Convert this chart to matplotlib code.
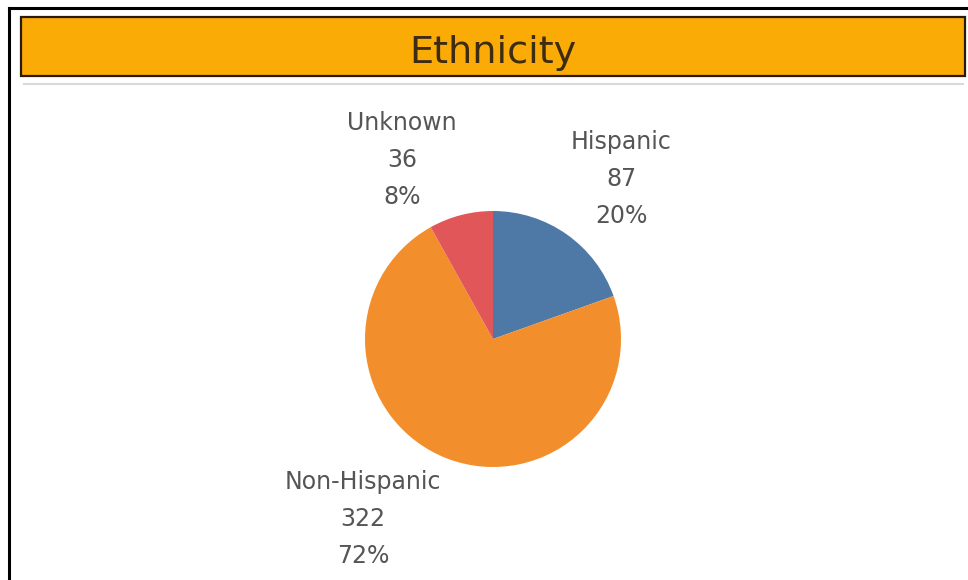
import matplotlib.pyplot as plt
from matplotlib.patches import Rectangle

# ethnicity counts
groups = ['Hispanic', 'Non-Hispanic', 'Unknown']
counts = [87, 322, 36]
colors = ['#4e79a7', '#f28e2b', '#e15759']

W, H = 968, 580
fig = plt.figure(figsize=(W / 100, H / 100), dpi=100)
ax = fig.add_axes([0, 0, 1, 1])

# pie, clockwise from 12 o'clock
ax.pie(counts, colors=colors, startangle=90, counterclock=False,
       center=(493, H - 339), radius=128, wedgeprops={'linewidth': 0})

ax.set_xlim(0, W)
ax.set_ylim(0, H)
ax.set_aspect('equal')
ax.axis('off')

# outer frame (left + top only)
ax.plot([9, 9], [0, H - 8], color='black', lw=2.2, solid_capstyle='projecting')
ax.plot([9, W], [H - 8, H - 8], color='black', lw=2.2, solid_capstyle='projecting')

# title banner
ax.add_patch(Rectangle((21, H - 76), 944, 59, facecolor='#fbab05',
                       edgecolor='#2a1a0c', lw=1.6))
ax.text(493, H - 63, 'Ethnicity', ha='center', va='baseline',
        fontsize=27.5, color='#3d2c12')
ax.plot([24, 963], [H - 84, H - 84], color='#d9d9d9', lw=1.5)

# labels: name / count / percent
total = sum(counts)
label_pos = {'Hispanic': (621, 149), 'Non-Hispanic': (363, 489), 'Unknown': (402, 130)}
for g, c in zip(groups, counts):
    x, y = label_pos[g]
    lines = [g, str(c), '%d%%' % round(100 * c / total)]
    for i, s in enumerate(lines):
        ax.text(x, H - (y + 37 * i), s, ha='center', va='baseline',
                fontsize=17, color='#555555')

fig.savefig('out.png', dpi=100)
